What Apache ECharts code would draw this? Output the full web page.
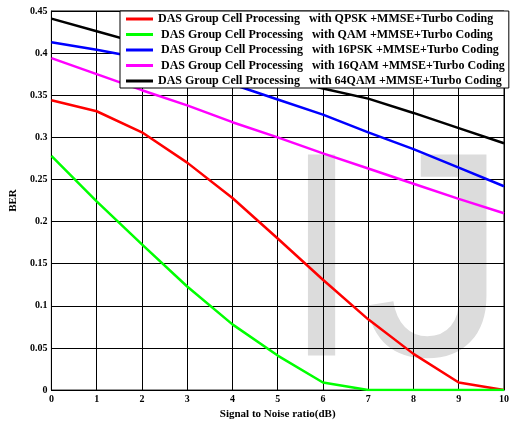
<!DOCTYPE html>
<html>
<head>
<meta charset="utf-8">
<script src="https://cdn.jsdelivr.net/npm/echarts@6/dist/echarts.min.js"></script>
<style>
  html, body { margin: 0; padding: 0; background: #fff; }
  #chart { width: 512px; height: 425px; background: #fff; }
</style>
</head>
<body>
<div id="chart"></div>
<script>
// SNR points (dB)
const snr = [0, 1, 2, 3, 4, 5, 6, 7, 8, 9, 10];

// BER curves for each modulation scheme
const berQPSK  = [0.344, 0.331, 0.306, 0.270, 0.228, 0.180, 0.131, 0.084, 0.043, 0.009, 0.000];
const berQAM   = [0.278, 0.224, 0.173, 0.123, 0.078, 0.041, 0.009, 0.000, 0.000, 0.000, 0.000];
const ber16PSK = [0.413, 0.404, 0.394, 0.381, 0.363, 0.345, 0.327, 0.306, 0.286, 0.264, 0.242];
const ber16QAM = [0.394, 0.375, 0.356, 0.338, 0.318, 0.300, 0.281, 0.263, 0.245, 0.227, 0.210];
const ber64QAM = [0.441, 0.426, 0.411, 0.398, 0.385, 0.372, 0.358, 0.346, 0.329, 0.311, 0.293];

const seriesNames = [
  'DAS Group Cell Processing   with QPSK +MMSE+Turbo Coding',
  ' DAS Group Cell Processing   with QAM +MMSE+Turbo Coding',
  ' DAS Group Cell Processing   with 16PSK +MMSE+Turbo Coding',
  ' DAS Group Cell Processing   with 16QAM +MMSE+Turbo Coding',
  'DAS Group Cell Processing   with 64QAM +MMSE+Turbo Coding'
];
const seriesColors = ['#ff0000', '#00ff00', '#0000ff', '#ff00ff', '#000000'];
const seriesData = [berQPSK, berQAM, ber16PSK, ber16QAM, ber64QAM];

const xTickLabels = ['0', '1', '2', '3', '4', '5', '6', '7', '8', '9', '10'];
const yTickLabels = ['0', '0.05', '0.1', '0.15', '0.2', '0.25', '0.3', '0.35', '0.4', '0.45'];

const serif = '"Liberation Serif", "Times New Roman", serif';

const chart = echarts.init(document.getElementById('chart'), null, { renderer: 'canvas' });

chart.setOption({
  animation: false,
  backgroundColor: 'transparent',
  grid: {
    left: 47, right: 4, top: 11, bottom: 32,
    show: true, borderColor: '#000', borderWidth: 1, backgroundColor: 'transparent'
  },
  // light watermark on its own layer beneath the grid lines and curves
  graphic: [{
    type: 'text',
    zlevel: -1,
    z: 0,
    left: 281,
    top: 129,
    style: {
      text: 'IJ',
      font: '292px "Liberation Sans", Arial, sans-serif',
      fill: '#dcdcdc',
      verticalAlign: 'middle'
    }
  }],
  legend: {
    orient: 'vertical',
    left: 120,
    top: 11,
    padding: [2, 4, 1, 6],
    itemGap: 3.5,
    itemWidth: 27,
    itemHeight: 3,
    itemTextGap: 4,
    backgroundColor: '#fff',
    borderColor: '#000',
    borderWidth: 1,
    icon: 'rect',
    textStyle: { fontFamily: serif, fontWeight: 'bold', fontSize: 12, color: '#000', lineHeight: 12 },
    data: seriesNames
  },
  xAxis: {
    type: 'value',
    min: 0, max: 10, interval: 1,
    name: 'Signal to Noise ratio(dB)',
    nameLocation: 'middle',
    nameGap: 17,
    nameTextStyle: { fontFamily: serif, fontWeight: 'bold', fontSize: 11, color: '#000' },
    axisLine: { lineStyle: { color: '#000', width: 1 } },
    axisTick: { show: false },
    axisLabel: {
      margin: 4,
      fontFamily: serif, fontWeight: 'bold', fontSize: 10, color: '#000',
      formatter: (v) => xTickLabels[Math.round(v)]
    },
    splitLine: { show: true, lineStyle: { color: '#000', width: 1 } }
  },
  yAxis: {
    type: 'value',
    min: 0, max: 0.45, interval: 0.05,
    name: 'BER',
    nameLocation: 'middle',
    nameGap: 32,
    nameTextStyle: { fontFamily: serif, fontWeight: 'bold', fontSize: 11, color: '#000' },
    axisLine: { show: true, lineStyle: { color: '#000', width: 1 } },
    axisTick: { show: false },
    axisLabel: {
      margin: 4,
      fontFamily: serif, fontWeight: 'bold', fontSize: 10, color: '#000',
      formatter: (v) => yTickLabels[Math.round(v / 0.05)]
    },
    splitLine: { show: true, lineStyle: { color: '#000', width: 1 } }
  },
  series: seriesNames.map((name, i) => ({
    name: name,
    type: 'line',
    data: snr.map((x, j) => [x, seriesData[i][j]]),
    symbol: 'none',
    color: seriesColors[i],
    lineStyle: { width: 2.5, color: seriesColors[i] },
    z: 2
  }))
});
</script>
</body>
</html>
